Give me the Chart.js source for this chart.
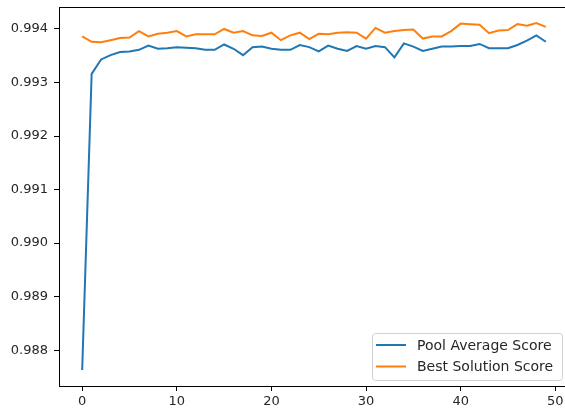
<!DOCTYPE html>
<html>
<head>
<meta charset="utf-8">
<script src="https://cdn.jsdelivr.net/npm/chart.js@4.4.1/dist/chart.umd.min.js"></script>
<style>
  html, body { margin: 0; padding: 0; background: #fff; overflow: hidden; }
  #wrap { width: 570px; height: 412px; position: relative; }
</style>
</head>
<body>
<div id="wrap"><canvas id="chart"></canvas></div>
<script>
// Data
const generations = Array.from({ length: 50 }, (_, i) => i);
const poolAverage = [
    0.98763, 0.99316, 0.99343, 0.99351, 0.99357, 0.99358, 0.99361, 0.99369, 0.99363, 0.99364,
    0.99366, 0.99365, 0.99364, 0.99361, 0.99361, 0.99371, 0.99363, 0.99351, 0.99366, 0.99367,
    0.99363, 0.99361, 0.99361, 0.99370, 0.99366, 0.99358, 0.99369, 0.99363, 0.99359, 0.99368,
    0.99363, 0.99368, 0.99366, 0.99347, 0.99373, 0.99367, 0.99359, 0.99363, 0.99367, 0.99367,
    0.99368, 0.99368, 0.99372, 0.99364, 0.99364, 0.99364, 0.99370, 0.99378, 0.99388, 0.99376
];
const bestSolution = [
    0.99386, 0.99376, 0.99375, 0.99379, 0.99383, 0.99384, 0.99396, 0.99386, 0.99391, 0.99393,
    0.99396, 0.99386, 0.99390, 0.99390, 0.99390, 0.99400, 0.99393, 0.99396, 0.99388, 0.99387,
    0.99393, 0.99379, 0.99388, 0.99393, 0.99381, 0.99391, 0.99390, 0.99393, 0.99394, 0.99393,
    0.99382, 0.99402, 0.99393, 0.99396, 0.99398, 0.99399, 0.99382, 0.99386, 0.99386, 0.99396,
    0.99410, 0.99409, 0.99408, 0.99392, 0.99397, 0.99398, 0.99409, 0.99406, 0.99411, 0.99404
];
const seriesNames = ['Pool Average Score', 'Best Solution Score'];
const xTicks = [0, 10, 20, 30, 40, 50];
const yTicks = [0.988, 0.989, 0.990, 0.991, 0.992, 0.993, 0.994];

const BLUE = '#1f77b4';
const ORANGE = '#ff7f0e';
const TEXT = '#262626';
const FONT = { family: 'DejaVu Sans', size: 13 };

const toPoints = vals => vals.map((v, i) => ({ x: generations[i], y: v }));

// top/right spines like matplotlib
const frame = {
    id: 'frame',
    afterDraw(chart) {
        const { ctx, chartArea: a } = chart;
        ctx.save();
        ctx.strokeStyle = '#000';
        ctx.lineWidth = 1;
        ctx.strokeRect(Math.round(a.left) + 0.5, Math.round(a.top) + 0.5,
            Math.round(a.right - a.left), Math.round(a.bottom - a.top));
        ctx.restore();
    }
};

// matplotlib style legend in the lower right corner
const boxLegend = {
    id: 'boxLegend',
    afterDraw(chart) {
        const { ctx, chartArea: a } = chart;
        const right = 562, bottom = a.bottom - 6;
        const w = 190, h = 47;
        const left = right - w, top = bottom - h;
        ctx.save();
        ctx.beginPath();
        ctx.roundRect(left + 0.5, top + 0.5, w, h, 3);
        ctx.fillStyle = 'rgba(255,255,255,0.8)';
        ctx.fill();
        ctx.strokeStyle = '#d0d0d0';
        ctx.lineWidth = 1;
        ctx.stroke();
        ctx.font = '14px "DejaVu Sans"';
        ctx.textBaseline = 'middle';
        chart.data.datasets.forEach((ds, i) => {
            const y = top + 12 + i * 21.5;
            ctx.strokeStyle = ds.borderColor;
            ctx.lineWidth = 2;
            ctx.beginPath();
            ctx.moveTo(left + 4, y);
            ctx.lineTo(left + 34, y);
            ctx.stroke();
            ctx.fillStyle = TEXT;
            ctx.fillText(ds.label, left + 45, y + 1);
        });
        ctx.restore();
    }
};

new Chart(document.getElementById('chart'), {
    type: 'line',
    data: {
        datasets: [
            {
                label: seriesNames[0],
                data: toPoints(poolAverage),
                borderColor: BLUE,
                borderWidth: 2,
                pointRadius: 0,
                tension: 0,
                order: 1
            },
            {
                label: seriesNames[1],
                data: toPoints(bestSolution),
                borderColor: ORANGE,
                borderWidth: 2,
                pointRadius: 0,
                tension: 0,
                order: 0
            }
        ]
    },
    options: {
        responsive: true,
        maintainAspectRatio: false,
        animation: false,
        layout: { padding: { top: 7, right: 1, left: 0, bottom: 0 } },
        plugins: {
            legend: { display: false },
            tooltip: { enabled: false }
        },
        scales: {
            x: {
                type: 'linear',
                min: -2.45,
                max: 51.45,
                afterBuildTicks: s => { s.ticks = xTicks.map(v => ({ value: v })); },
                afterFit: s => { s.height = 26; s.paddingLeft = 0; s.paddingRight = 0; },
                grid: { drawOnChartArea: false, drawTicks: true, tickLength: 5, tickColor: '#000' },
                border: { color: '#000', width: 1 },
                ticks: { color: TEXT, font: FONT, padding: 3, maxRotation: 0 }
            },
            y: {
                min: 0.98733,
                max: 0.99441,
                afterBuildTicks: s => { s.ticks = yTicks.map(v => ({ value: v })); },
                afterFit: s => { s.width = 59; s.paddingTop = 0; s.paddingBottom = 0; },
                grid: { drawOnChartArea: false, drawTicks: true, tickLength: 5, tickColor: '#000' },
                border: { color: '#000', width: 1 },
                ticks: {
                    color: TEXT,
                    font: FONT,
                    padding: 6,
                    callback: v => v.toFixed(3)
                }
            }
        }
    },
    plugins: [frame, boxLegend]
});
</script>
</body>
</html>
